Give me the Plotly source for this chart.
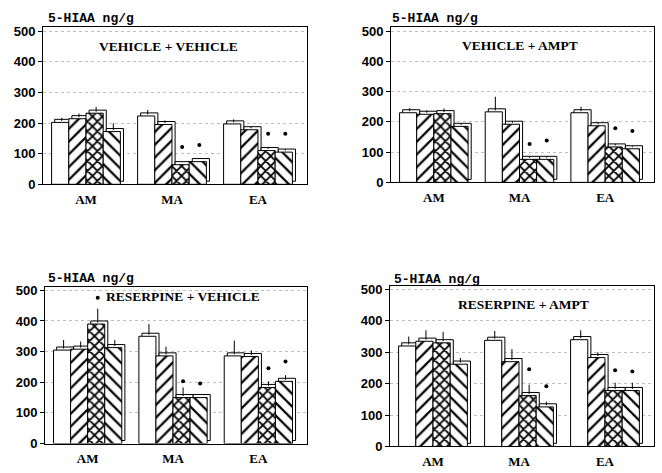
import plotly.graph_objects as go

categories = ["AM", "MA", "EA"]
panel_titles = ["VEHICLE + VEHICLE", "VEHICLE + AMPT", "RESERPINE + VEHICLE", "RESERPINE + AMPT"]
series_names = ["Group 1", "Group 2", "Group 3", "Group 4"]
y_label = "5-HIAA ng/g"
y_ticks = [0, 100, 200, 300, 400, 500]

# means per panel: one list per series (AM, MA, EA)
vv_means = [[202, 223, 197], [214, 195, 178], [232, 64, 110], [172, 74, 105]]
vv_err = [[10, 15, 10], [12, 8, 5], [15, 0, 5], [22, 0, 5]]
vv_sig = [[None, None, None], [None, None, None], [None, 122, 165], [None, 128, 165]]

va_means = [[230, 233, 230], [225, 192, 187], [227, 76, 117], [185, 76, 111]]
va_err = [[10, 45, 15], [8, 5, 5], [12, 5, 5], [5, 3, 3]]
va_sig = [[None, None, None], [None, None, None], [None, 127, 179], [None, 138, 170]]

rv_means = [[305, 350, 286], [308, 286, 284], [390, 150, 183], [313, 150, 203]]
rv_err = [[28, 35, 45], [20, 25, 15], [45, 28, 15], [20, 0, 15]]
rv_sig = [[None, None, None], [None, None, None], [476, 203, 246], [None, 196, 268]]

ra_means = [[320, 338, 340], [335, 270, 283], [330, 162, 178], [262, 126, 178]]
ra_err = [[25, 25, 25], [30, 35, 12], [30, 30, 20], [15, 12, 20]]
ra_sig = [[None, None, None], [None, None, None], [None, 246, 243], [None, 192, 239]]

panels = [
    (vv_means, vv_err, vv_sig),
    (va_means, va_err, va_sig),
    (rv_means, rv_err, rv_sig),
    (ra_means, ra_err, ra_sig),
]

W, H = 662, 473
# pixel boxes of each plot area: (left, right, top, bottom)
boxes = [(43, 307, 24, 185), (391, 654, 24, 183), (45, 307, 290, 451), (390, 654, 289, 454)]
title_pos = [(168, 44), (520, 43), (183, 300), (523, 308)]
label_pos = [(46, 15), (390, 15), (46, 282), (392, 283)]

patterns = ["", "/", "x", "\\"]
pat_size = [8, 9, 7, 9]
pat_solid = [0.2, 0.25, 0.45, 0.25]
bar_w = 0.2
offsets = [-1.5 * bar_w, -0.5 * bar_w, 0.5 * bar_w, 1.5 * bar_w]
depth_x = 0.036   # pseudo-3D depth, axis units
depth_y = 10

fig = go.Figure()
layout = dict(
    width=W, height=H, margin=dict(l=0, r=0, t=0, b=0),
    paper_bgcolor="white", plot_bgcolor="white",
    showlegend=False, barmode="overlay",
)
annotations = []
for p, (means, errs, sigs) in enumerate(panels):
    ax = "" if p == 0 else str(p + 1)
    xref, yref = "x" + ax, "y" + ax
    # back faces (3D slab look) first
    for k in range(4):
        xs = [i + offsets[k] + depth_x for i in range(len(categories))]
        fig.add_trace(go.Bar(
            x=xs, y=means[k], base=[depth_y] * len(means[k]), width=bar_w,
            xaxis=xref, yaxis=yref, hoverinfo="skip", name=series_names[k] + " depth",
            marker=dict(color="white", line=dict(color="black", width=1)),
        ))
    for k in range(4):
        xs = [i + offsets[k] for i in range(len(categories))]
        fig.add_trace(go.Bar(
            x=xs, y=means[k], width=bar_w, name=series_names[k],
            xaxis=xref, yaxis=yref,
            marker=dict(color="white", line=dict(color="black", width=1),
                        pattern=dict(shape=patterns[k], fgcolor="black", bgcolor="white",
                                     size=pat_size[k], solidity=pat_solid[k], fgopacity=1)),
        ))
    for k in range(4):
        xs = [i + offsets[k] + depth_x / 2 for i in range(len(categories))]
        fig.add_trace(go.Scatter(
            x=xs, y=[m + depth_y / 2 for m in means[k]], mode="markers",
            xaxis=xref, yaxis=yref, name=series_names[k] + " sem",
            marker=dict(size=1, color="rgba(0,0,0,0)"),
            error_y=dict(type="data", symmetric=False, array=errs[k],
                         arrayminus=[0] * len(errs[k]), color="black", thickness=1, width=0),
        ))
        sx = [xs[i] for i in range(len(xs)) if sigs[k][i] is not None]
        sy = [v for v in sigs[k] if v is not None]
        if sx:
            fig.add_trace(go.Scatter(
                x=sx, y=sy, mode="markers", xaxis=xref, yaxis=yref,
                marker=dict(color="black", size=4), name=series_names[k] + " sig",
            ))
    l, r, t, b = boxes[p]
    layout["xaxis" + ax] = dict(
        domain=[l / W, r / W], range=[-0.5, 2.57], anchor=yref,
        tickvals=[0, 1, 2], ticktext=["<b>%s</b>" % c for c in categories], ticks="",
        ticklabelstandoff=3,
        showline=True, mirror=True, linecolor="black", linewidth=1,
        showgrid=False, zeroline=False,
        tickfont=dict(family="Liberation Serif", size=13, color="black"),
    )
    layout["yaxis" + ax] = dict(
        domain=[1 - b / H, 1 - t / H], range=[0, 512], anchor=xref,
        tickvals=y_ticks, ticktext=["<b>%d</b>" % v for v in y_ticks],
        ticks="outside", ticklen=4, tickcolor="black",
        showline=True, mirror=True, linecolor="black", linewidth=1,
        showgrid=True, gridcolor="#c0c0c0", griddash="dot", gridwidth=1, zeroline=False,
        tickfont=dict(family="Liberation Sans", size=13, color="black"),
    )
    tx, ty = title_pos[p]
    annotations.append(dict(
        text="<b>%s</b>" % panel_titles[p], x=tx / W, y=1 - ty / H, xref="paper", yref="paper",
        showarrow=False, xanchor="center", yanchor="middle",
        font=dict(family="Liberation Serif", size=13.5, color="black"),
    ))
    lx, ly = label_pos[p]
    annotations.append(dict(
        text="<b>%s</b>" % y_label, x=lx / W, y=1 - ly / H, xref="paper", yref="paper",
        showarrow=False, xanchor="left", yanchor="middle",
        font=dict(family="Liberation Mono", size=13, color="black"),
    ))
layout["annotations"] = annotations
fig.update_layout(**layout)
fig.write_html("out.html")
